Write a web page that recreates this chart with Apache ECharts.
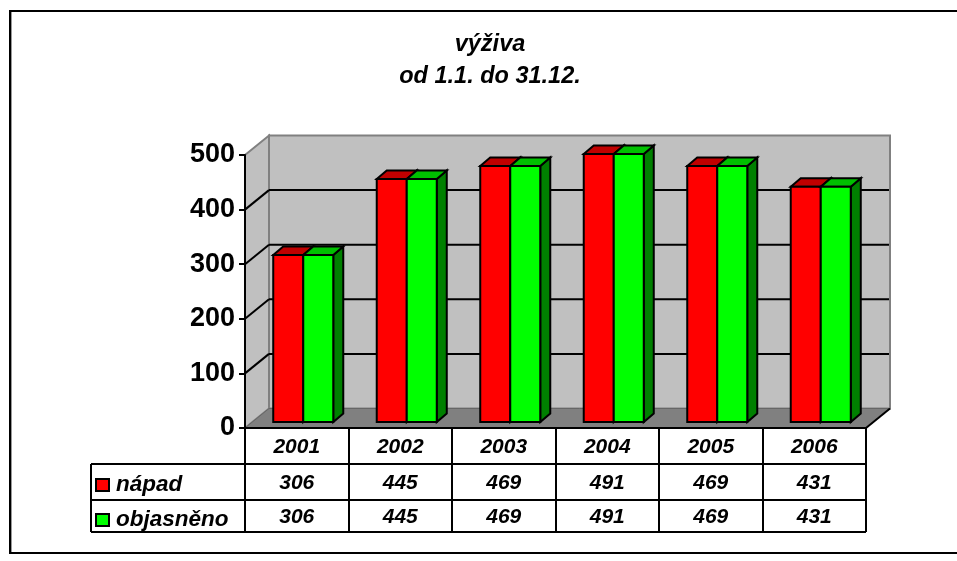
<!DOCTYPE html>
<html><head><meta charset="utf-8">
<style>html,body{margin:0;padding:0;background:#fff}#c{width:957px;height:561px}</style>
<script src="https://cdn.jsdelivr.net/npm/echarts@6/dist/echarts.min.js"></script>
</head><body><div id="c"></div>
<script>
var years = ['2001','2002','2003','2004','2005','2006'];
var napad = [306,445,469,491,469,431];
var objasneno = [306,445,469,491,469,431];
var yTicks = [0,100,200,300,400,500];
var titleLines = ['výživa','od 1.1. do 31.12.'];
var seriesNames = ['nápad','objasněno'];

var FONT = '"Liberation Sans", Arial, sans-serif';
var WALL_DX = 24, WALL_DY = -19.5;
var BAR_DX = 10, BAR_DY = -8.5, BASE_DX = 6.5, BASE_DY = -6, BAR_FRAC = 0.29;
var ROW_LINES = [464, 500, 532], ROW_TEXT = [483, 517], TABLE_LEFT = 91;

function poly(points, fill, stroke, w){
  return {type:'polygon', shape:{points:points}, style:{fill:fill, stroke:stroke, lineWidth:w, lineJoin:'miter'}};
}
function line(x1,y1,x2,y2,stroke,w){
  return {type:'line', shape:{x1:x1,y1:y1,x2:x2,y2:y2}, style:{stroke:stroke, lineWidth:w, fill:null}};
}
function wallsItem(params, api){
  var c = params.coordSys, L=c.x, R=c.x+c.width, T=c.y, B=c.y+c.height;
  var ch = [
    poly([[L,T],[L+WALL_DX,T+WALL_DY],[L+WALL_DX,B+WALL_DY],[L,B]],'#c0c0c0','#808080',2),
    poly([[L+WALL_DX,T+WALL_DY],[R+WALL_DX,T+WALL_DY],[R+WALL_DX,B+WALL_DY],[L+WALL_DX,B+WALL_DY]],'#c0c0c0','#808080',2),
    poly([[L,B],[L+WALL_DX,B+WALL_DY],[R+WALL_DX,B+WALL_DY],[R,B]],'#808080','#666666',1),
    line(R,B,R+WALL_DX,B+WALL_DY,'#000',2)
  ];
  yTicks.slice(1,-1).forEach(function(t){
    var y = api.coord([0,t])[1];
    ch.push(line(L,y,L+WALL_DX,y+WALL_DY,'#000',2));
    ch.push(line(L+WALL_DX,y+WALL_DY,R+WALL_DX-1,y+WALL_DY,'#000',2));
  });
  return {type:'group', children:ch};
}
function barItem(idx, front, top, side){
  return function(params, api){
    var b = api.coord([api.value(0), api.value(1)]);
    var w = api.size([1,0])[0]*BAR_FRAC;
    var x0 = b[0]+BASE_DX-w+idx*w, x1 = x0+w;
    var y0 = b[1]+BASE_DY, yb = api.coord([api.value(0),0])[1]+BASE_DY;
    return {type:'group', children:[
      poly([[x1,y0],[x1+BAR_DX,y0+BAR_DY],[x1+BAR_DX,yb+BAR_DY],[x1,yb]],side,'#000',2),
      poly([[x0,y0],[x0+BAR_DX,y0+BAR_DY],[x1+BAR_DX,y0+BAR_DY],[x1,y0]],top,'#000',2),
      {type:'rect', shape:{x:x0,y:y0,width:w,height:yb-y0}, style:{fill:front,stroke:'#000',lineWidth:2}}
    ]};
  };
}
function tableValueItem(row){
  return function(params, api){
    return {type:'text', x:api.coord([api.value(0),0])[0], y:ROW_TEXT[row],
      style:{text:String(api.value(1)), textAlign:'center', textVerticalAlign:'middle',
        font:'italic bold 21px '+FONT, fill:'#000'}};
  };
}
function tableLinesItem(params, api){
  var c = params.coordSys, R=c.x+c.width;
  return {type:'group', children:[
    line(TABLE_LEFT,ROW_LINES[0],R,ROW_LINES[0],'#000',2),
    line(TABLE_LEFT,ROW_LINES[1],R,ROW_LINES[1],'#000',2),
    line(TABLE_LEFT,ROW_LINES[2],R,ROW_LINES[2],'#000',2),
    line(TABLE_LEFT,ROW_LINES[0],TABLE_LEFT,ROW_LINES[2],'#000',2)
  ]};
}
function pairs(a){ return a.map(function(v,i){return [i,v];}); }

var chart = echarts.init(document.getElementById('c'));
chart.setOption({
  animation:false,
  backgroundColor:'#fff',
  graphic:[
    {type:'polyline',silent:true,z:100,shape:{points:[[957,11],[10,11],[10,553],[957,553]]},style:{stroke:'#000',lineWidth:2,fill:null}},
    {type:'line',silent:true,z:100,shape:{x1:11.5,y1:12,x2:11.5,y2:552},style:{stroke:'#999',lineWidth:1}}
  ],
  title:{text:titleLines.join('\n'), left:485, top:24, textAlign:'center',
    textStyle:{fontFamily:FONT,fontStyle:'italic',fontWeight:'bold',fontSize:23.5,lineHeight:32,color:'#000'}},
  legend:{orient:'vertical', left:90, top:467, itemWidth:13, itemHeight:12, itemGap:9, icon:'rect',
    selectedMode:false, data:seriesNames,
    itemStyle:{borderColor:'#000',borderWidth:2},
    textStyle:{fontFamily:FONT,fontStyle:'italic',fontWeight:'bold',fontSize:22.5,lineHeight:26,color:'#000',padding:[0,0,0,2]}},
  grid:{left:245, top:155, width:621, height:273, containLabel:false},
  xAxis:{type:'category', data:years, boundaryGap:true, z:5,
    axisLine:{show:true,lineStyle:{color:'#000',width:2}},
    axisTick:{show:true,alignWithLabel:false,length:104,lineStyle:{color:'#000',width:2}},
    axisLabel:{margin:9,fontFamily:FONT,fontStyle:'italic',fontWeight:'bold',fontSize:21,color:'#000'}},
  yAxis:{type:'value', min:0, max:500, interval:100, z:5,
    axisLine:{show:true,lineStyle:{color:'#000',width:2}},
    axisTick:{show:true,length:6,lineStyle:{color:'#000',width:2}},
    splitLine:{show:false},
    axisLabel:{margin:10,fontFamily:FONT,fontWeight:'bold',fontSize:27,color:'#000'}},
  series:[
    {type:'custom',name:'walls',renderItem:wallsItem,data:[[0,0]],z:1,silent:true,clip:false,encode:{x:0,y:1}},
    {type:'custom',name:seriesNames[0],renderItem:barItem(0,'#ff0000','#c00000','#800000'),data:pairs(napad),z:2,itemStyle:{color:'#ff0000'},encode:{x:0,y:1}},
    {type:'custom',name:seriesNames[1],renderItem:barItem(1,'#00ff00','#00c000','#008000'),data:pairs(objasneno),z:3,itemStyle:{color:'#00ff00'},encode:{x:0,y:1}},
    {type:'custom',name:'tableLines',renderItem:tableLinesItem,data:[[0,0]],z:4,silent:true,clip:false,encode:{x:0,y:1}},
    {type:'custom',name:'row1',renderItem:tableValueItem(0),data:pairs(napad),z:4,silent:true,clip:false,encode:{x:0,y:1}},
    {type:'custom',name:'row2',renderItem:tableValueItem(1),data:pairs(objasneno),z:4,silent:true,clip:false,encode:{x:0,y:1}}
  ]
});
</script></body></html>
